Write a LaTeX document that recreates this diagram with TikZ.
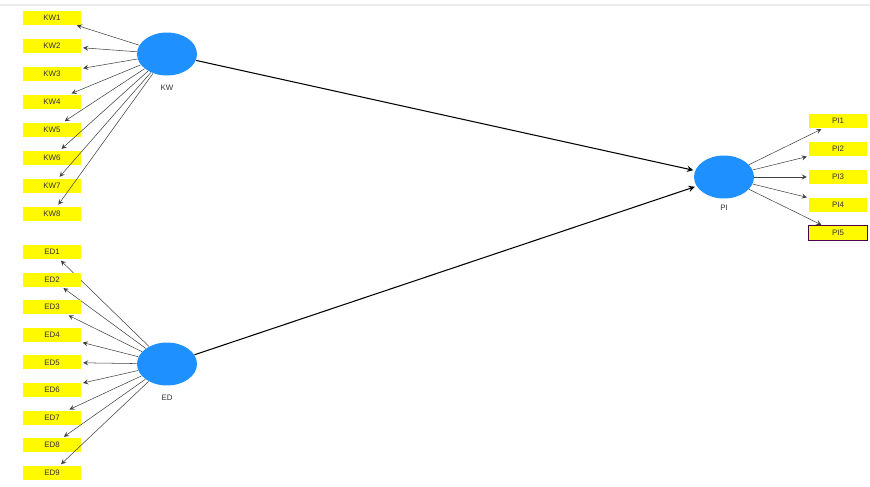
\documentclass[tikz,border=0pt]{standalone}
\usepackage{fontspec}
\setmainfont{Liberation Sans}
\usetikzlibrary{shapes.geometric}
\definecolor{latentblue}{RGB}{30,144,255}
\definecolor{itemyellow}{RGB}{255,250,0}
\begin{document}
\begin{tikzpicture}[x=0.02cm, y=-0.02cm, >=stealth,
  item/.style={fill=itemyellow, minimum width=1.16cm, minimum height=0.28cm, inner sep=0pt, text=black!80, font=\fontsize{4.5}{5}\selectfont},
  latent/.style={ellipse, fill=latentblue, minimum width=1.2cm, minimum height=0.86cm, inner sep=0pt},
  lvname/.style={text=black!80, font=\fontsize{4.5}{5}\selectfont},
  load/.style={->, draw=black!75, line width=0.3pt, shorten >=1pt},
  structural/.style={->, line width=0.6pt, shorten >=1pt}]
  \useasboundingbox (0,0) rectangle (870,487);
  \draw[black!7, line width=1.5pt] (0,5) -- (870,5);

  % latent variables
  \node[latent] (KW) at (167,54) {};
  \node[lvname] (KWname) at (167,88) {KW};
  \node[latent] (ED) at (167,364) {};
  \node[lvname] (EDname) at (167,398) {ED};
  \node[latent] (PI) at (724,177) {};
  \node[lvname] (PIname) at (724,208) {PI};

  % indicators
  \foreach \i in {1,...,8} {
    \node[item] (KW\i) at (52,{17.5+28*(\i-1)}) {KW\i};
    \draw[load] (KW) -- (KW\i);
  }
  \foreach \i in {1,...,9} {
    \node[item] (ED\i) at (52,{252+27.6*(\i-1)}) {ED\i};
    \draw[load] (ED) -- (ED\i);
  }
  \foreach \i in {1,...,5} {
    \node[item] (PI\i) at (838,{121+28*(\i-1)}) {PI\i};
    \draw[load] (PI) -- (PI\i);
  }
  \draw[violet!60!black, line width=0.4pt] (PI5.south west) rectangle (PI5.north east);

  % paths
  \draw[structural] (KW) -- (PI);
  \draw[structural] (ED) -- (PI);
\end{tikzpicture}
\end{document}
